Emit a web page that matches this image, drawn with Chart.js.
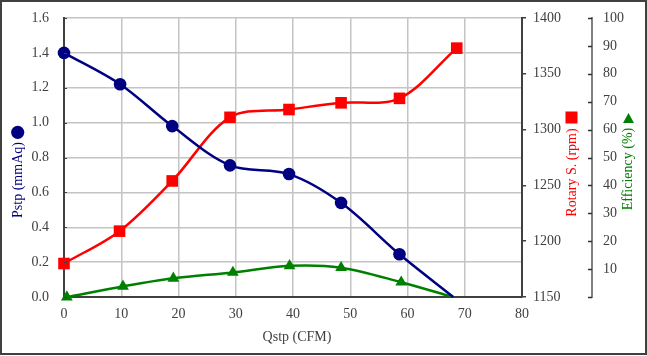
<!DOCTYPE html>
<html>
<head>
<meta charset="utf-8">
<script src="https://cdn.jsdelivr.net/npm/chart.js@4"></script>
<style>
html,body{margin:0;padding:0;background:#fff;}
#wrap{width:647px;height:356px;}
</style>
</head>
<body>
<div id="wrap"><canvas id="c" width="647" height="356"></canvas></div>
<script>
// ---- data ----
const qstpP   = [0, 9.8, 18.9, 29.0, 39.3, 48.4, 58.6, 68.0];
const pstp    = [1.40, 1.22, 0.98, 0.755, 0.705, 0.54, 0.245, 0];
const qstpR   = [0, 9.7, 18.9, 29.0, 39.3, 48.4, 58.6, 68.6];
const rpm     = [1180, 1209, 1254, 1311, 1318, 1324, 1328, 1373];
const qstpE   = [0.5, 10.3, 19.1, 29.5, 39.4, 48.4, 58.9, 67.9];
const eff     = [0, 3.8, 6.7, 8.8, 11.2, 10.5, 5.3, 0];
const xTicks  = [0, 10, 20, 30, 40, 50, 60, 70, 80];
const pTicks  = [0, 0.2, 0.4, 0.6, 0.8, 1.0, 1.2, 1.4, 1.6];
const rTicks  = [1150, 1200, 1250, 1300, 1350, 1400];
const eTicks  = [0, 10, 20, 30, 40, 50, 60, 70, 80, 90, 100];
const xTitle  = 'Qstp (CFM)';
const pTitle  = 'Pstp (mmAq)';
const rTitle  = 'Rotary S. (rpm)';
const eTitle  = 'Efficiency (%)';

const NAVY = '#000080', RED = '#ff0000', GREEN = '#008000';
const AXIS = '#404040', GRID = '#c4c4c4', TXT = '#404040';
const FONT = "'Liberation Serif', 'Times New Roman', serif";

const pts = (xs, ys) => xs.map((x, i) => ({x: x, y: ys[i]}));
const radii = (n, r) => Array.from({length: n}, (_, i) => i === n - 1 ? 0 : r);
const fixV = w => s => { s.width = w; s.paddingTop = 0; s.paddingBottom = 0; };

Chart.defaults.font.family = FONT;
Chart.defaults.font.size = 14;
Chart.defaults.color = TXT;

const decor = {
  id: 'decor',
  beforeDraw(chart) {
    const ctx = chart.ctx;
    ctx.save();
    ctx.fillStyle = '#fff';
    ctx.fillRect(0, 0, chart.width, chart.height);
    ctx.restore();
  },
  afterDraw(chart) {
    const ctx = chart.ctx;
    const ca = chart.chartArea;
    const ys = chart.scales.y, ye = chart.scales.yE;
    ctx.save();
    // outer frame
    ctx.strokeStyle = AXIS;
    ctx.lineWidth = 2;
    ctx.strokeRect(1, 1, chart.width - 2, chart.height - 3);
    // inner ticks on left axis
    ctx.lineWidth = 1;
    ctx.strokeStyle = AXIS;
    pTicks.forEach(v => {
      const y = Math.round(ys.getPixelForValue(v)) + 0.5;
      ctx.beginPath(); ctx.moveTo(ca.left, y); ctx.lineTo(ca.left + 3, y); ctx.stroke();
    });
    // efficiency axis inner ticks
    const ex = ye.left;
    ctx.strokeStyle = '#303030';
    ctx.lineWidth = 1.5;
    eTicks.forEach(v => {
      const y = Math.round(ye.getPixelForValue(v)) + 0.5;
      ctx.beginPath(); ctx.moveTo(ex - 4, y); ctx.lineTo(ex, y); ctx.stroke();
    });
    // titles
    ctx.font = '14px ' + FONT;
    ctx.textAlign = 'center';
    ctx.textBaseline = 'middle';
    ctx.fillStyle = TXT;
    ctx.fillText(xTitle, 297, 337);
    const vtext = (t, x, y, col) => {
      ctx.save(); ctx.translate(x, y); ctx.rotate(-Math.PI / 2);
      ctx.fillStyle = col; ctx.fillText(t, 0, 0); ctx.restore();
    };
    vtext(pTitle, 18.5, 180, NAVY);
    vtext(rTitle, 572, 172.5, RED);
    vtext(eTitle, 628, 169, GREEN);
    // title markers
    ctx.fillStyle = NAVY;
    ctx.beginPath(); ctx.arc(17.7, 132.3, 6.6, 0, Math.PI * 2); ctx.fill();
    ctx.fillStyle = RED;
    ctx.fillRect(565.5, 111.5, 12, 12);
    ctx.fillStyle = GREEN;
    ctx.beginPath(); ctx.moveTo(628.5, 113); ctx.lineTo(634, 123); ctx.lineTo(623, 123); ctx.closePath(); ctx.fill();
    ctx.restore();
  }
};

new Chart(document.getElementById('c'), {
  type: 'line',
  data: {
    datasets: [
      {
        label: pTitle, data: pts(qstpP, pstp), yAxisID: 'y',
        borderColor: NAVY, backgroundColor: NAVY, borderWidth: 2.5,
        pointStyle: 'circle', pointRadius: radii(qstpP.length, 6.3),
        pointBorderWidth: 0, tension: 0.33, clip: false
      },
      {
        label: rTitle, data: pts(qstpR, rpm), yAxisID: 'yR',
        borderColor: RED, backgroundColor: RED, borderWidth: 2.5,
        pointStyle: 'rect', pointRadius: 8.2,
        pointBorderWidth: 0, tension: 0.33, clip: false
      },
      {
        label: eTitle, data: pts(qstpE, eff), yAxisID: 'yE',
        borderColor: GREEN, backgroundColor: GREEN, borderWidth: 2.5,
        pointStyle: 'triangle', pointRadius: radii(qstpE.length, 6.8),
        pointBorderWidth: 0, tension: 0.33, clip: false
      }
    ]
  },
  options: {
    responsive: false,
    animation: false,
    events: [],
    layout: { padding: { top: 18, left: 0, right: 0, bottom: 0 } },
    plugins: { legend: { display: false }, tooltip: { enabled: false } },
    elements: { line: { capBezierPoints: false } },
    scales: {
      x: {
        type: 'linear', min: 0, max: 80,
        afterBuildTicks: s => { s.ticks = xTicks.map(v => ({value: v})); },
        afterFit: s => { s.height = 59; s.paddingLeft = 0; s.paddingRight = 0; },
        grid: { color: GRID, lineWidth: 1.5, drawTicks: false },
        border: { color: AXIS, width: 2 },
        ticks: { padding: 9, color: TXT, callback: v => String(v) }
      },
      y: {
        position: 'left', min: 0, max: 1.6,
        afterBuildTicks: s => { s.ticks = pTicks.map(v => ({value: v})); },
        afterFit: fixV(64),
        grid: { color: GRID, lineWidth: 1.5, drawTicks: false },
        border: { color: AXIS, width: 2 },
        ticks: { padding: 15, color: TXT, callback: v => Number(v).toFixed(1) }
      },
      yR: {
        position: 'right', weight: 0, min: 1150, max: 1400,
        afterBuildTicks: s => { s.ticks = rTicks.map(v => ({value: v})); },
        afterFit: fixV(70),
        grid: { drawOnChartArea: false, drawTicks: true, tickLength: 4, tickColor: AXIS, lineWidth: 1.5 },
        border: { color: AXIS, width: 2 },
        ticks: { padding: 7, color: TXT, callback: v => String(v) }
      },
      yE: {
        position: 'right', weight: 1, min: 0, max: 100,
        afterBuildTicks: s => { s.ticks = eTicks.map(v => ({value: v})); },
        afterFit: fixV(55),
        grid: { drawOnChartArea: false, drawTicks: false },
        border: { color: '#808080', width: 2 },
        ticks: { padding: 11, color: TXT, callback: v => v === 0 ? '' : String(v) }
      }
    }
  },
  plugins: [decor]
});
</script>
</body>
</html>
